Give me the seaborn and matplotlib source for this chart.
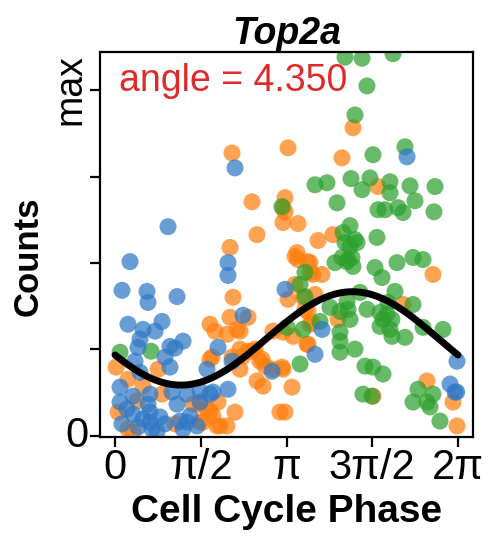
import numpy as np
import pandas as pd
import matplotlib
matplotlib.use("Agg")
import matplotlib.pyplot as plt
import seaborn as sns

# ---------------- data (phase in radians, counts scaled 0..max=1) ----------------
blue_phase = [0.971, 0.275, 0.128, 0.586, 0.604, 1.136, 0.238, 0.861, 0.513, 0.733,
              0.458, 1.246, 1.007, 1.099, 0.916, 0.421, 0.366, 1.007, 0.458, 0.092,
              1.044, 0.641, 0.330, 1.319, 1.557, 1.740, 0.092, 0.604, 1.136, 1.557,
              0.330, 0.641, 0.128, 0.641, 1.191, 1.374, 1.502, 0.421, 0.678, 1.246,
              0.769, 1.887, 2.198, 2.070, 2.070, 2.345, 2.143, 2.876, 1.685, 1.795,
              2.070, 1.319, 3.114, 3.792, 3.664, 5.349, 6.265, 6.137, 6.228, 6.260,
              0.220, 0.824, 0.513, 0.916]
blue_counts = [0.605, 0.504, 0.421, 0.418, 0.386, 0.403, 0.323, 0.331, 0.308, 0.303,
               0.280, 0.274, 0.259, 0.254, 0.228, 0.256, 0.216, 0.199, 0.184, 0.141,
               0.127, 0.121, 0.115, 0.121, 0.130, 0.121, 0.098, 0.092, 0.092, 0.098,
               0.063, 0.069, 0.035, 0.040, 0.043, 0.058, 0.029, 0.026, 0.020, 0.020,
               0.012, 0.256, 0.775, 0.501, 0.464, 0.349, 0.216, 0.187, 0.193, 0.127,
               0.135, 0.040, 0.424, 0.308, 0.236, 0.807, 0.216, 0.150, 0.127, 0.127,
               0.078, 0.055, 0.049, 0.035]

orange_phase = [0.788, 0.020, 0.238, 0.513, 0.861, 0.403, 1.429, 0.055, 1.740, 1.887,
                1.099, 1.612, 1.868, 0.238, 0.330, 1.740, 1.832, 1.740, 2.601, 2.107,
                2.162, 3.169, 2.107, 2.436, 2.235, 2.052, 2.894, 1.777, 2.290, 2.528,
                2.143, 2.345, 2.656, 2.290, 2.601, 2.711, 3.059, 3.022, 2.198, 1.557,
                1.685, 1.795, 1.923, 1.557, 3.297, 3.664, 3.572, 3.792, 2.290, 3.261,
                3.609, 3.535, 2.436, 2.565, 2.693, 2.748, 2.894, 3.242, 2.052, 2.143,
                3.169, 4.158, 2.510, 3.114, 3.077, 3.077, 3.352, 3.719, 3.993, 3.334,
                3.352, 3.572, 4.360, 4.818, 3.114, 5.825, 3.297, 3.535, 3.627, 3.444,
                3.480, 3.535, 5.276, 4.085, 3.077, 3.572, 3.517, 3.077, 3.114, 4.726,
                5.715, 6.191, 6.265]
orange_counts = [0.193, 0.199, 0.164, 0.144, 0.121, 0.101, 0.092, 0.069, 0.072, 0.098,
                 0.035, 0.040, 0.029, 0.020, 0.012, 0.323, 0.303, 0.222, 0.582, 0.545,
                 0.401, 0.395, 0.343, 0.343, 0.308, 0.294, 0.303, 0.228, 0.251, 0.245,
                 0.228, 0.231, 0.216, 0.193, 0.159, 0.144, 0.199, 0.069, 0.069, 0.092,
                 0.078, 0.058, 0.029, 0.040, 0.438, 0.409, 0.473, 0.467, 0.303, 0.288,
                 0.329, 0.265, 0.245, 0.251, 0.222, 0.202, 0.193, 0.141, 0.029, 0.818,
                 0.833, 0.804, 0.677, 0.689, 0.660, 0.617, 0.614, 0.565, 0.582, 0.530,
                 0.510, 0.501, 0.891, 0.721, 0.648, 0.467, 0.519, 0.504, 0.467, 0.401,
                 0.366, 0.360, 0.380, 0.337, 0.300, 0.323, 0.265, 0.193, 0.069, 0.115,
                 0.159, 0.098, 0.029]

green_phase = [0.092, 0.659, 3.151, 3.389, 3.480, 3.480, 3.444, 4.122, 4.122, 4.122,
               3.389, 3.059, 3.664, 3.883, 4.323, 4.067, 4.177, 4.213, 4.030, 4.268,
               4.213, 4.525, 5.092, 4.616, 4.396, 4.726, 5.312, 4.671, 4.525, 5.037,
               5.037, 5.404, 5.862, 5.495, 4.818, 4.946, 5.184, 5.276, 5.843, 4.305,
               4.396, 4.799, 4.305, 4.341, 4.360, 4.763, 5.166, 5.459, 5.642, 4.891,
               4.433, 4.158, 4.250, 5.129, 4.488, 3.938, 4.250, 4.268, 4.122, 4.616,
               4.854, 5.074, 4.983, 5.459, 4.305, 4.909, 4.854, 5.037, 3.755, 5.074,
               5.312, 5.642, 6.008, 4.396, 4.580, 4.726, 4.909, 4.543, 4.708, 5.550,
               5.825, 5.459, 5.715, 5.770, 5.953, 5.001]
green_counts = [0.242, 0.245, 0.314, 0.438, 0.403, 0.473, 0.308, 0.300, 0.274, 0.242,
                0.208, 0.663, 0.726, 0.732, 0.744, 0.674, 0.588, 0.559, 0.501, 0.510,
                1.095, 1.092, 1.105, 1.012, 0.928, 0.813, 0.836, 0.746, 0.712, 0.735,
                0.703, 0.723, 0.721, 0.680, 0.654, 0.654, 0.660, 0.646, 0.648, 0.608,
                0.568, 0.574, 0.548, 0.516, 0.490, 0.487, 0.501, 0.516, 0.510, 0.458,
                0.559, 0.516, 0.504, 0.418, 0.415, 0.372, 0.389, 0.366, 0.360, 0.366,
                0.357, 0.337, 0.352, 0.380, 0.337, 0.337, 0.317, 0.308, 0.331, 0.288,
                0.285, 0.314, 0.308, 0.251, 0.202, 0.199, 0.179, 0.121, 0.115, 0.135,
                0.121, 0.098, 0.098, 0.084, 0.043, 0.386]

# fitted cosine model
fit_mean = 0.282
fit_amplitude = 0.135
fit_angle = 4.350

x_tick_values = [0, np.pi / 2, np.pi, 3 * np.pi / 2, 2 * np.pi]
x_tick_labels = ["0", "π/2", "π", "3π/2", "2π"]
y_tick_values = [0, 1]
y_tick_labels = ["0", "max"]
y_minor_ticks = [0.25, 0.5, 0.75]

# ---------------- build table ----------------
df = pd.concat([
    pd.DataFrame({"phase": orange_phase, "counts": orange_counts, "group": "G1"}),
    pd.DataFrame({"phase": green_phase, "counts": green_counts, "group": "S"}),
    pd.DataFrame({"phase": blue_phase, "counts": blue_counts, "group": "G2M"}),
], ignore_index=True)

palette = {"G2M": "#2f78c6", "G1": "#ff7f0e", "S": "#2ca02c"}

sns.set_style("ticks")
plt.rcParams["font.family"] = ["Liberation Sans", "DejaVu Sans"]
plt.rcParams["text.color"] = "black"
plt.rcParams["axes.labelcolor"] = "black"
plt.rcParams["xtick.color"] = "black"
plt.rcParams["ytick.color"] = "black"

fig = plt.figure(figsize=(4.95, 5.42), dpi=100)
ax = fig.add_axes([100 / 495, 1 - 437 / 542, 373 / 495, 385 / 542])

sns.scatterplot(data=df, x="phase", y="counts", hue="group", palette=palette,
                s=150, alpha=0.72, linewidth=0, legend=False, ax=ax)

xs = np.linspace(0, 2 * np.pi, 300)
fit_df = pd.DataFrame({"phase": xs,
                       "counts": fit_mean + fit_amplitude * np.cos(xs - fit_angle)})
sns.lineplot(data=fit_df, x="phase", y="counts", color="black", linewidth=5, ax=ax)

ax.set_xlim(-0.275, 6.558)
ax.set_ylim(-0.003, 1.11)

ax.set_xticks(x_tick_values)
ax.set_xticklabels(x_tick_labels, fontsize=30)
ax.set_yticks(y_tick_values)
ax.set_yticklabels(y_tick_labels, fontsize=30)
ax.set_yticks(y_minor_ticks, minor=True)
lbls = ax.get_yticklabels()
lbls[1].set_rotation(90)
lbls[1].set_va("center")
lbls[1].set_fontsize(27)
lbls[0].set_va("center")

for s in ax.spines.values():
    s.set_visible(True)
    s.set_linewidth(1.6)
    s.set_color("black")
ax.tick_params(axis="both", which="major", length=7, width=1.6, pad=1, colors="black")
ax.tick_params(axis="y", which="minor", length=7, width=1.6, colors="black")

ax.set_xlabel("Cell Cycle Phase", fontsize=28, fontweight="bold", labelpad=4)
ax.set_ylabel("Counts", fontsize=25, fontweight="bold")
ax.yaxis.set_label_coords(-0.148, 0.47)
ax.set_title("Top2a", fontsize=27, fontweight="bold", fontstyle="italic", pad=4)

ax.text(0.05, 0.925, f"angle = {fit_angle:.3f}", transform=ax.transAxes,
        color="#e02a2a", fontsize=27, va="center", ha="left")

fig.savefig("out.png", dpi=100)
